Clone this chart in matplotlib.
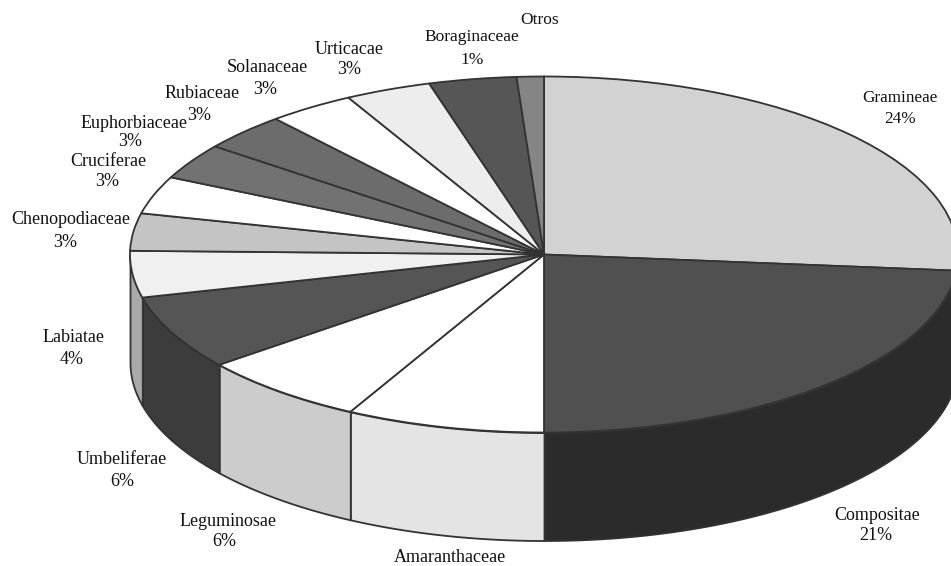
import numpy as np
import matplotlib
matplotlib.use('Agg')
import matplotlib.pyplot as plt

plt.rcParams['font.family'] = ['Liberation Serif', 'DejaVu Serif']

# slice sizes read from the drawn ellipse, degrees clockwise from 12 o'clock
families = ['Gramineae', 'Compositae', 'Amaranthaceae', 'Leguminosae', 'Umbeliferae',
            'Labiatae', 'Chenopodiaceae', 'Cruciferae', 'Euphorbiaceae', 'Rubiaceae',
            'Solanaceae', 'Urticacae', 'Boraginaceae', 'Otros']
sizes = [95.2, 84.8, 27.9, 23.8, 24.3, 15.2, 12.2, 12.3, 11.7, 12.2, 12.2, 12.1, 12.3, 3.8]
percents = ['24%', '21%', '', '6%', '6%', '4%', '3%', '3%', '3%', '3%', '3%', '3%', '1%', '']

top_colors = ['#d2d2d2', '#505050', '#ffffff', '#ffffff', '#555555', '#f0f0f0', '#c4c4c4',
              '#ffffff', '#727272', '#6c6c6c', '#ffffff', '#ededed', '#565656', '#858585']
side_colors = ['#2b2b2b', '#2b2b2b', '#e4e4e4', '#cccccc', '#3c3c3c', '#a9a9a9', '#a9a9a9',
               '#ffffff', '#727272', '#6c6c6c', '#ffffff', '#ededed', '#565656', '#858585']

# label centres in image pixels: name line, then percent line
name_xy = [(900, 98), (877, 515), (450, 558), (228, 521), (122, 459), (74, 338), (71, 220),
           (108, 162), (134, 124), (202, 93), (267, 68), (349, 50), (472, 37), (540, 20)]
pct_xy = [(900, 119), (876, 536), None, (224, 542), (122, 481), (72, 360), (65, 243),
          (107, 181), (130, 142), (199, 115), (265, 90), (349, 70), (472, 60), None]
name_sizes = [12.3, 13, 13, 13, 13, 13, 13, 13, 13, 13, 13, 13, 12.5, 12.5]

W, H = 951, 566
cx, cy = 544, 254.5
rx, ry = 414, 178
depth = 108 / ry
edge = '#333333'

fig = plt.figure(figsize=(W / 100, H / 100), dpi=100)
ax = fig.add_axes([0, 0, 1, 1])

ax.pie(sizes, colors=top_colors, startangle=90, counterclock=False, radius=1,
       wedgeprops={'edgecolor': edge, 'linewidth': 1.3, 'zorder': 3})

# side wall, only the front half of the disc shows
start = 0
for size, col in zip(sizes, side_colors):
    end = start + size
    a = max(start, 90)
    b = min(end, 270)
    if b > a:
        t = np.radians(np.linspace(a, b, 80))
        ax.fill_between(np.sin(t), np.cos(t), np.cos(t) - depth, facecolor=col,
                        edgecolor=edge, linewidth=1.3, zorder=2)
    start = end

ax.set_aspect('auto')
ax.set_xlim(-cx / rx, (W - cx) / rx)
ax.set_ylim((cy - H) / ry, cy / ry)
ax.axis('off')

for name, pct, nxy, pxy, fs in zip(families, percents, name_xy, pct_xy, name_sizes):
    fig.text(nxy[0] / W, 1 - nxy[1] / H, name, fontsize=fs, color='#111111', ha='center', va='center')
    if pct:
        fig.text(pxy[0] / W, 1 - pxy[1] / H, pct, fontsize=fs, color='#111111', ha='center', va='center')

fig.savefig('out.png', dpi=100)
